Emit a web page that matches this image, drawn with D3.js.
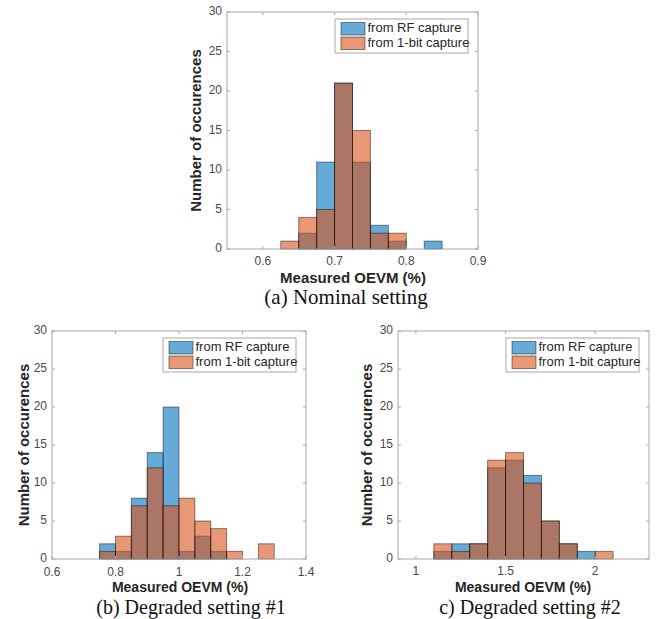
<!DOCTYPE html>
<html>
<head>
<meta charset="utf-8">
<script src="https://cdn.jsdelivr.net/npm/d3@7"></script>
<style>
  html, body { margin: 0; padding: 0; background: #fff; }
  svg { display: block; }
</style>
</head>
<body>
<div id="chart"></div>
<script>
// ---- data ----
const seriesNames = ["from RF capture", "from 1-bit capture"];
const yTicks = [0, 5, 10, 15, 20, 25, 30];

// (a) nominal setting
const nominalEdges = [0.625, 0.65, 0.675, 0.7, 0.725, 0.75, 0.775, 0.8, 0.825, 0.85];
const nominalRF = [0, 2, 11, 21, 11, 3, 1, 0, 1];
const nominalOneBit = [1, 4, 5, 21, 15, 2, 2, 0, 0];
const nominalXTicks = [0.6, 0.7, 0.8, 0.9];
const nominalXLabels = ["0.6", "0.7", "0.8", "0.9"];

// (b) degraded setting #1
const degraded1Edges = [0.75, 0.8, 0.85, 0.9, 0.95, 1.0, 1.05, 1.1, 1.15, 1.2, 1.25, 1.3];
const degraded1RF = [2, 1, 8, 14, 20, 1, 3, 1, 0, 0, 0];
const degraded1OneBit = [1, 3, 7, 12, 7, 8, 5, 4, 1, 0, 2];
const degraded1XTicks = [0.6, 0.8, 1.0, 1.2, 1.4];
const degraded1XLabels = ["0.6", "0.8", "1", "1.2", "1.4"];

// (c) degraded setting #2
const degraded2Edges = [1.1, 1.2, 1.3, 1.4, 1.5, 1.6, 1.7, 1.8, 1.9, 2.0, 2.1];
const degraded2RF = [1, 2, 2, 12, 13, 11, 5, 2, 1, 0];
const degraded2OneBit = [2, 1, 2, 13, 14, 10, 5, 2, 0, 1];
const degraded2XTicks = [1, 1.5, 2];
const degraded2XLabels = ["1", "1.5", "2"];

const COLORS = ["#0072BD", "#D95319"];

const panels = [
  {
    edges: nominalEdges, series: [nominalRF, nominalOneBit],
    xDomain: [0.55, 0.9], xTicks: nominalXTicks, xLabels: nominalXLabels,
    caption: "(a) Nominal setting",
    box: { left: 227, right: 478, top: 12, bottom: 249 },
    tickY: 262, xLabelY: 279, xLabelX: 353, captionY: 299, captionX: 346, yLabelX: 197,
    labelSize: 15, captionSize: 21
  },
  {
    edges: degraded1Edges, series: [degraded1RF, degraded1OneBit],
    xDomain: [0.6, 1.4], xTicks: degraded1XTicks, xLabels: degraded1XLabels,
    caption: "(b) Degraded setting #1",
    box: { left: 52, right: 306, top: 331, bottom: 559 },
    tickY: 573, xLabelY: 588, xLabelX: 180, captionY: 609, captionX: 191, yLabelX: 25,
    labelSize: 14, captionSize: 20
  },
  {
    edges: degraded2Edges, series: [degraded2RF, degraded2OneBit],
    xDomain: [0.9, 2.3], xTicks: degraded2XTicks, xLabels: degraded2XLabels,
    caption: "c) Degraded setting #2",
    box: { left: 398, right: 649, top: 331, bottom: 559 },
    tickY: 572, xLabelY: 588, xLabelX: 523, captionY: 609, captionX: 530, yLabelX: 368,
    labelSize: 14, captionSize: 20
  }
];

const svg = d3.select("#chart").append("svg")
  .attr("width", 665)
  .attr("height", 619);

function drawPanel(p) {
  const b = p.box;
  const x = d3.scaleLinear().domain(p.xDomain).range([b.left, b.right]);
  const y = d3.scaleLinear().domain([0, 30]).range([b.bottom, b.top]);
  const g = svg.append("g");

  // bars: RF first, 1-bit on top, both semi transparent
  p.series.forEach((counts, si) => {
    const bins = counts.map((c, i) => ({ x0: p.edges[i], x1: p.edges[i + 1], n: c }))
      .filter(d => d.n > 0);
    g.append("g").selectAll("rect")
      .data(bins)
      .join("rect")
      .attr("x", d => x(d.x0))
      .attr("y", d => y(d.n))
      .attr("width", d => x(d.x1) - x(d.x0))
      .attr("height", d => y(0) - y(d.n))
      .attr("fill", COLORS[si])
      .attr("fill-opacity", 0.6)
      .attr("stroke", "#000")
      .attr("stroke-opacity", 0.45)
      .attr("stroke-width", 1);
  });

  // box + inward ticks (matlab style)
  const axisColor = "#a8a8a8";
  const tl = 3;
  g.append("rect")
    .attr("x", b.left).attr("y", b.top)
    .attr("width", b.right - b.left).attr("height", b.bottom - b.top)
    .attr("fill", "none").attr("stroke", axisColor).attr("stroke-width", 1);

  const ticks = g.append("g").attr("stroke", axisColor).attr("stroke-width", 1);
  p.xTicks.forEach(t => {
    ticks.append("line").attr("x1", x(t)).attr("x2", x(t)).attr("y1", b.bottom).attr("y2", b.bottom - tl);
    ticks.append("line").attr("x1", x(t)).attr("x2", x(t)).attr("y1", b.top).attr("y2", b.top + tl);
  });
  yTicks.forEach(t => {
    ticks.append("line").attr("x1", b.left).attr("x2", b.left + tl).attr("y1", y(t)).attr("y2", y(t));
    ticks.append("line").attr("x1", b.right).attr("x2", b.right - tl).attr("y1", y(t)).attr("y2", y(t));
  });

  const tickFont = "Liberation Sans, Arial, sans-serif";
  g.append("g").selectAll("text")
    .data(p.xTicks)
    .join("text")
    .attr("x", d => x(d))
    .attr("y", p.tickY)
    .attr("text-anchor", "middle")
    .attr("dominant-baseline", "middle")
    .attr("font-family", tickFont)
    .attr("font-size", 12)
    .attr("fill", "#4a4a4a")
    .text((d, i) => p.xLabels[i]);

  g.append("g").selectAll("text")
    .data(yTicks)
    .join("text")
    .attr("x", b.left - 5)
    .attr("y", d => y(d))
    .attr("text-anchor", "end")
    .attr("dominant-baseline", "middle")
    .attr("font-family", tickFont)
    .attr("font-size", 12)
    .attr("fill", "#4a4a4a")
    .text(d => d);

  // axis labels
  g.append("text")
    .attr("x", p.xLabelX).attr("y", p.xLabelY)
    .attr("text-anchor", "middle").attr("dominant-baseline", "middle")
    .attr("font-family", tickFont).attr("font-weight", "bold").attr("font-size", p.labelSize)
    .attr("fill", "#262626")
    .text("Measured OEVM (%)");

  const midY = (b.top + b.bottom) / 2;
  g.append("text")
    .attr("transform", `translate(${p.yLabelX},${midY}) rotate(-90)`)
    .attr("text-anchor", "middle").attr("dominant-baseline", "middle")
    .attr("font-family", tickFont).attr("font-weight", "bold").attr("font-size", 15)
    .attr("fill", "#262626")
    .text("Number of occurences");

  // caption
  g.append("text")
    .attr("x", p.captionX).attr("y", p.captionY)
    .attr("text-anchor", "middle").attr("dominant-baseline", "middle")
    .attr("font-family", "Liberation Serif, Times New Roman, serif").attr("font-size", p.captionSize)
    .attr("fill", "#111")
    .text(p.caption);

  // legend
  const lw = 133, lh = 34;
  const lx = b.right - 10 - lw, ly = b.top + 7;
  const leg = g.append("g").attr("transform", `translate(${lx},${ly})`);
  leg.append("rect")
    .attr("width", lw).attr("height", lh)
    .attr("fill", "#fff").attr("stroke", "#a8a8a8");
  seriesNames.forEach((name, i) => {
    const row = leg.append("g").attr("transform", `translate(6,${3.5 + i * 14.5})`);
    row.append("rect")
      .attr("width", 24).attr("height", 12.5)
      .attr("fill", COLORS[i]).attr("fill-opacity", 0.6)
      .attr("stroke", "#000").attr("stroke-opacity", 0.45);
    row.append("text")
      .attr("x", 26.5).attr("y", 6.5)
      .attr("dominant-baseline", "middle")
      .attr("font-family", tickFont).attr("font-size", 13)
      .attr("fill", "#262626")
      .text(name);
  });
}

panels.forEach(drawPanel);
</script>
</body>
</html>
